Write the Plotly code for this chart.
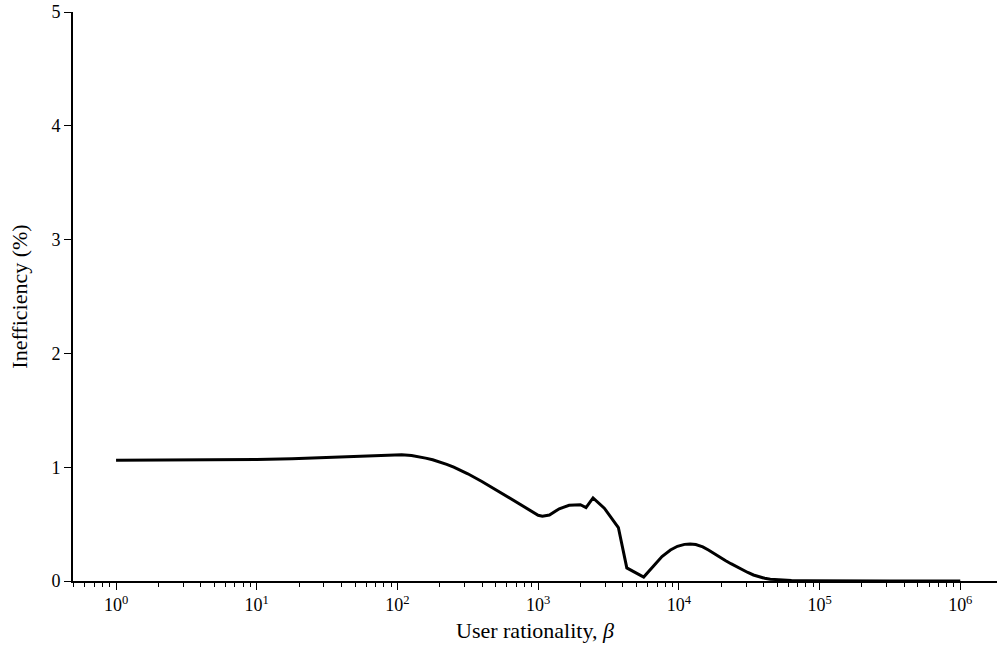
import plotly.graph_objects as go

# Data (log10 of beta, inefficiency in %)
log_beta = [0.0, 0.5, 1.0, 1.25, 1.5, 1.65, 1.8, 1.9, 1.97, 2.03, 2.1, 2.15, 2.2, 2.25,
            2.3, 2.35, 2.4, 2.45, 2.5, 2.6, 2.7, 2.8, 2.9, 3.0, 3.03, 3.08, 3.15, 3.22,
            3.30, 3.34, 3.39, 3.47, 3.57, 3.63, 3.75, 3.82, 3.88, 3.94, 3.99, 4.04, 4.08,
            4.12, 4.17, 4.21, 4.25, 4.29, 4.33, 4.37, 4.41, 4.45, 4.49, 4.53, 4.57, 4.61,
            4.65, 4.7, 4.75, 4.8, 4.9, 5.0, 5.5, 6.0]
inefficiency = [1.060, 1.062, 1.068, 1.075, 1.086, 1.095, 1.105, 1.110, 1.112, 1.110, 1.103,
                1.093, 1.080, 1.065, 1.048, 1.025, 1.000, 0.972, 0.942, 0.875, 0.800, 0.725,
                0.650, 0.578, 0.570, 0.580, 0.635, 0.665, 0.670, 0.645, 0.730, 0.640, 0.470,
                0.115, 0.035, 0.130, 0.215, 0.272, 0.305, 0.322, 0.326, 0.320, 0.300, 0.272,
                0.240, 0.210, 0.180, 0.152, 0.125, 0.100, 0.075, 0.053, 0.036, 0.024, 0.016,
                0.010, 0.006, 0.004, 0.002, 0.001, 0.0, 0.0]
beta = [10 ** v for v in log_beta]

x_tick_vals = [1, 10, 100, 1000, 10000, 100000, 1000000]
x_tick_text = ["10<sup>0</sup>", "10<sup>1</sup>", "10<sup>2</sup>", "10<sup>3</sup>",
               "10<sup>4</sup>", "10<sup>5</sup>", "10<sup>6</sup>"]
y_tick_vals = [0, 1, 2, 3, 4, 5]

FONT = "Liberation Serif, DejaVu Serif, serif"

fig = go.Figure()
fig.add_trace(go.Scatter(x=beta, y=inefficiency, mode="lines",
                         line=dict(color="black", width=3), showlegend=False))

fig.update_layout(
    width=997, height=654,
    margin=dict(l=73, r=0, t=12, b=73, autoexpand=False),
    paper_bgcolor="white", plot_bgcolor="white",
    font=dict(family=FONT, size=18, color="black"),
)
fig.update_xaxes(
    type="log", range=[-0.306, 6.261], automargin=False,
    tickvals=x_tick_vals, ticktext=x_tick_text,
    ticks="outside", ticklen=7, tickwidth=1.2, tickcolor="black",
    minor=dict(ticks="outside", ticklen=4, tickwidth=1, tickcolor="black", dtick="D1", showgrid=False),
    showline=True, linecolor="black", linewidth=1.6,
    showgrid=False, zeroline=False,
    tickfont=dict(size=18), ticklabeloverflow="allow",
    title=dict(text="User rationality, <i>β</i>", font=dict(size=22), standoff=8),
)
fig.update_yaxes(
    range=[0, 5], tickvals=y_tick_vals, automargin=False,
    ticks="outside", ticklen=7, tickwidth=1.2, tickcolor="black",
    showline=True, linecolor="black", linewidth=1.6,
    showgrid=False, zeroline=False,
    tickfont=dict(size=18), ticklabeloverflow="allow",
    title=dict(text="Inefficiency (%)", font=dict(size=22), standoff=18),
)

fig.write_html(
    "out.html",
    config={"displayModeBar": False},
    post_script="document.body.style.margin='0';document.body.style.overflow='hidden';",
)
